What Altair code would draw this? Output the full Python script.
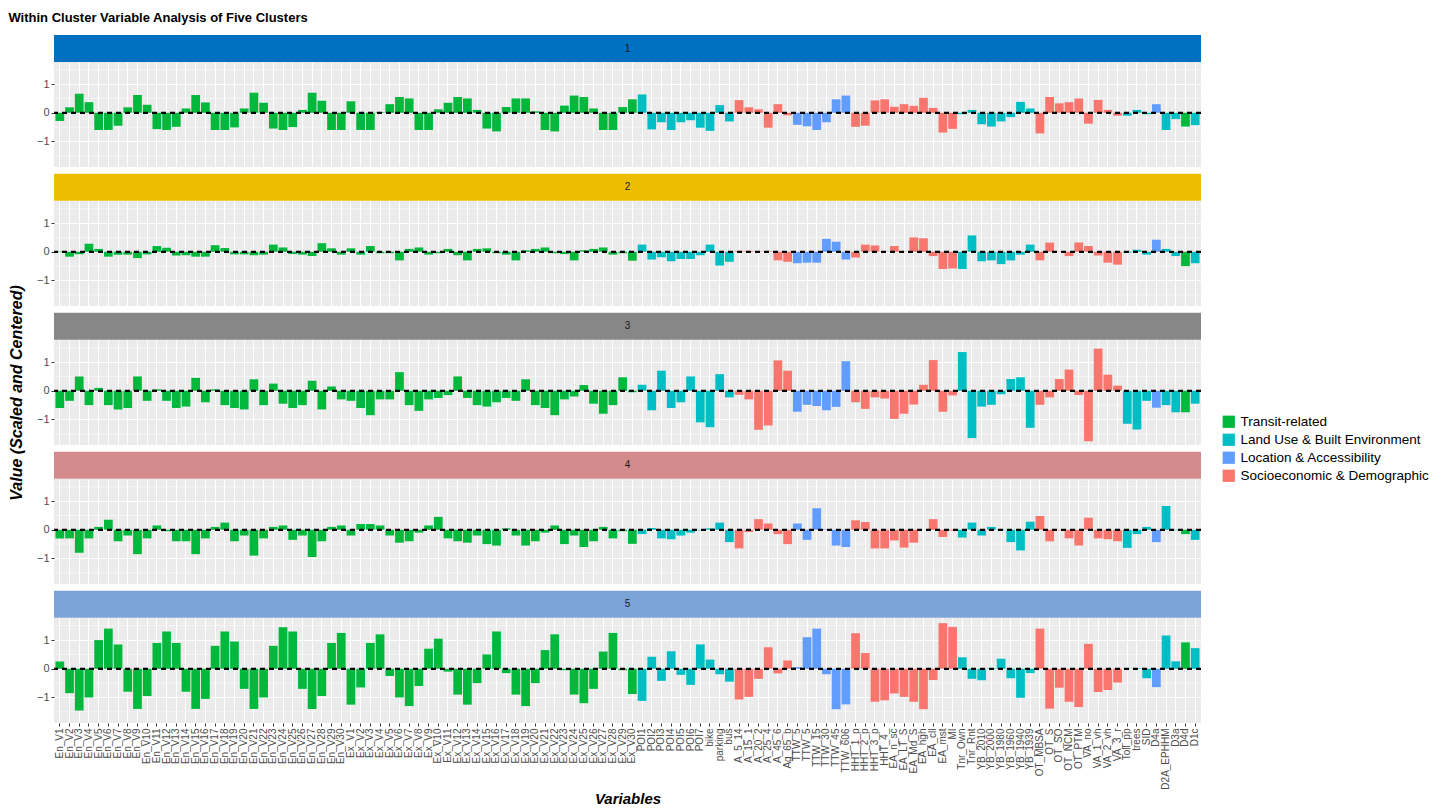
import altair as alt
import pandas as pd

# ---------------- data ----------------
variables = ([f"En_V{i}" for i in range(1, 31)] + [f"Ex_V{i}" for i in range(1, 31)] +
             ["POI1", "POI2", "POI3", "POI4", "POI5", "POI6", "POI7", "bike", "parking", "bus",
              "A_5_14", "A_15_1", "A_20_2", "A_25_4", "A_45_6", "Ag_65_b",
              "TTW_5", "TTW_5\u200b", "TTW_15", "TTW_30", "TTW_45", "TTW_606",
              "HHT_1_p", "HHT_2_p", "HHT_3_p", "HHT_4_",
              "EA_n_sc", "EA_LT_S", "EA_Md_S", "EA_hgh", "EA_cll", "EA_mst", "MI",
              "Tnr_Own", "Tnr_Rnt", "YB_2010", "YB_2000", "YB_1980", "YB_1960", "YB_1940", "YB_1939",
              "OT_MBSA", "OT_S", "OT_SO", "OT_NCM", "OT_PTM", "VA_no", "VA_1_vh", "VA_2_vh", "VA_3_r",
              "Toll_pp", "trees", "SID", "D4a", "D2A_EPHHM", "D3a", "D4d", "D1c"])

T = "Transit-related"
L = "Land Use & Built Environment"
A = "Location & Accessibility"
S = "Socioeconomic & Demographic"
category_names = [T, L, A, S]
category_colors = ["#00B83C", "#00BFC4", "#619CFF", "#F8766D"]
categories = ([T] * 60 + [L] * 10 + [S] * 6 + [A] * 6 + [S] * 11 + [L] * 8 + [S] * 9 +
              [L] * 3 + [A] + [L, L] + [T] + [L])

cluster1 = [-0.29, 0.19, 0.66, 0.37, -0.6, -0.6, -0.45, 0.19, 0.62, 0.28, -0.57, -0.6, -0.49, 0.15, 0.62,
            0.36, -0.6, -0.6, -0.51, 0.15, 0.7, 0.35, -0.55, -0.6, -0.5, 0.1, 0.7, 0.42, -0.6, -0.6,
            0.4, -0.6, -0.6, 0.02, 0.3, 0.55, 0.5, -0.6, -0.6, 0.12, 0.35, 0.55, 0.5, 0.1, -0.55,
            -0.65, 0.2, 0.5, 0.5, 0.05, -0.6, -0.65, 0.25, 0.6, 0.55, 0.15, -0.6, -0.6, 0.2, 0.47,
            0.64, -0.58, -0.33, -0.6, -0.33, -0.26, -0.52, -0.63, 0.27, -0.3, 0.44, 0.19, 0.12, -0.52,
            0.3, -0.09, -0.42, -0.47, -0.6, -0.33, 0.47, 0.6, -0.49, -0.45, 0.43, 0.47, 0.21, 0.3, 0.24,
            0.52, 0.17, -0.69, -0.56, -0.05, 0.1, -0.4, -0.48, -0.3, -0.15, 0.38, 0.15, -0.72, 0.55,
            0.33, 0.37, 0.5, -0.38, 0.45, 0.1, -0.1, -0.1, 0.1, -0.05, 0.3, -0.6, -0.22, -0.48, -0.43]
cluster2 = [-0.02, -0.17, -0.09, 0.28, 0.1, -0.17, -0.1, -0.1, -0.22, -0.09, 0.2, 0.14, -0.13, -0.12, -0.17,
            -0.17, 0.23, 0.13, -0.09, -0.09, -0.12, -0.1, 0.25, 0.15, -0.08, -0.1, -0.15, 0.3, 0.12, -0.1,
            0.12, -0.1, 0.2, -0.05, -0.05, -0.3, 0.1, 0.15, -0.1, -0.05, 0.1, -0.12, -0.3, 0.1, 0.12,
            -0.05, -0.1, -0.3, 0.05, 0.1, 0.15, -0.05, -0.08, -0.3, 0.05, 0.1, 0.15, -0.1, -0.05, -0.31,
            0.25, -0.27, -0.19, -0.33, -0.25, -0.25, -0.12, 0.25, -0.48, -0.35, 0.03, 0.03, 0.01, 0.02,
            -0.3, -0.35, -0.4, -0.38, -0.38, 0.45, 0.35, -0.27, -0.2, 0.25, 0.22, 0.01, 0.2, 0.01, 0.5,
            0.47, -0.15, -0.6, -0.58, -0.6, 0.57, -0.33, -0.3, -0.43, -0.3, -0.1, 0.25, -0.3, 0.32,
            0.01, -0.15, 0.32, 0.2, -0.13, -0.38, -0.45, -0.03, 0.07, -0.1, 0.42, 0.1, -0.15, -0.5, -0.4]
cluster3 = [-0.6, -0.35, 0.5, -0.5, 0.1, -0.5, -0.65, -0.6, 0.5, -0.35, 0.05, -0.35, -0.6, -0.55, 0.45,
            -0.4, 0.05, -0.5, -0.6, -0.65, 0.4, -0.5, 0.25, -0.45, -0.6, -0.5, 0.35, -0.65, 0.15, -0.3,
            -0.35, -0.6, -0.85, -0.3, -0.3, 0.65, -0.5, -0.7, -0.3, -0.25, -0.15, 0.5, -0.25, -0.5, -0.55,
            -0.4, -0.25, -0.35, 0.4, -0.5, -0.6, -0.85, -0.3, -0.2, 0.2, -0.45, -0.8, -0.5, 0.47, -0.05,
            0.21, -0.68, 0.7, -0.6, -0.4, 0.5, -1.1, -1.27, 0.58, -0.23, -0.14, -0.3, -1.36, -1.21, 1.06,
            0.7, -0.73, -0.49, -0.53, -0.68, -0.56, 1.03, -0.4, -0.63, -0.23, -0.27, -0.98, -0.8, -0.48,
            0.21, 1.07, -0.73, -0.16, 1.35, -1.65, -0.55, -0.49, -0.12, 0.41, 0.47, -1.29, -0.49, -0.23,
            0.41, 0.74, -0.15, -1.76, 1.47, 0.56, 0.18, -1.15, -1.35, -0.35, -0.59, -0.5, -0.75, -0.75, -0.45]
cluster4 = [-0.3, -0.3, -0.8, -0.3, 0.1, 0.35, -0.4, -0.2, -0.85, -0.3, 0.15, -0.05, -0.4, -0.4, -0.85,
            -0.3, 0.1, 0.25, -0.4, -0.2, -0.9, -0.3, 0.1, 0.15, -0.35, -0.2, -0.95, -0.4, 0.1, 0.15,
            -0.2, 0.2, 0.2, 0.15, -0.2, -0.45, -0.4, -0.1, 0.15, 0.45, -0.3, -0.4, -0.45, -0.2, -0.5,
            -0.55, 0.05, -0.2, -0.55, -0.4, -0.1, 0.15, -0.5, -0.2, -0.6, -0.4, 0.1, -0.3, -0.05, -0.49,
            -0.15, 0.06, -0.3, -0.33, -0.2, -0.1, -0.02, 0.05, 0.25, -0.43, -0.65, -0.08, 0.37, 0.22,
            -0.15, -0.5, 0.22, -0.35, 0.75, 0.02, -0.55, -0.6, 0.33, 0.27, -0.65, -0.65, -0.37, -0.62,
            -0.45, 0.0, 0.37, -0.25, -0.03, -0.27, 0.25, -0.2, 0.1, -0.02, -0.43, -0.72, 0.28, 0.48,
            -0.4, -0.02, -0.3, -0.55, 0.42, -0.3, -0.33, -0.4, -0.63, -0.15, 0.1, -0.43, 0.83, -0.02, -0.15, -0.35]
cluster5 = [0.25, -0.85, -1.45, -1.0, 1.0, 1.4, 0.85, -0.8, -1.4, -0.95, 0.9, 1.3, 0.9, -0.8, -1.4,
            -1.05, 0.8, 1.3, 0.95, -0.7, -1.4, -1.0, 0.8, 1.45, 1.3, -0.7, -1.4, -0.95, 0.9, 1.25,
            -1.25, -0.65, 0.9, 1.2, -0.25, -1.0, -1.3, -0.6, 0.7, 1.05, -0.1, -0.9, -1.25, -0.5, 0.5,
            1.3, -0.15, -0.9, -1.3, -0.5, 0.65, 1.2, -0.05, -0.9, -1.2, -0.7, 0.6, 1.25, -0.05, -0.88,
            -1.12, 0.42, -0.42, 0.61, -0.21, -0.56, 0.85, 0.32, -0.19, -0.45, -1.07, -0.98, -0.35, 0.75,
            -0.16, 0.29, 0.06, 1.1, 1.4, -0.19, -1.41, -1.24, 1.24, 0.55, -1.15, -1.1, -0.86, -0.98,
            -1.15, -1.41, -0.39, 1.59, 1.46, 0.4, -0.35, -0.4, 0.02, 0.35, -0.33, -1.01, -0.15, 1.4,
            -1.39, -0.66, -1.15, -1.33, 0.87, -0.81, -0.74, -0.48, 0.01, 0.02, -0.33, -0.64, 1.16, 0.26, 0.92, 0.72]

clusters = [cluster1, cluster2, cluster3, cluster4, cluster5]
cluster_labels = ["1", "2", "3", "4", "5"]
strip_colors = ["#0070C0", "#EDBD00", "#878787", "#D48B8C", "#7BA5D8"]
minor_grid = [-1.5, -0.5, 0.5, 1.5]
major_ticks = [-1, 0, 1]

for c in clusters:
    assert len(c) == len(variables) == len(categories)

# ---------------- layout ----------------
W = 1147
STRIP_H = 27
GAP = 6.8
PANEL_H = 105
FONT = "Liberation Sans"

legend = alt.Legend(title=None, orient="none", legendX=1168, legendY=380,
                    symbolType="square", symbolSize=150, symbolStrokeWidth=0,
                    labelFontSize=13.5, labelFont=FONT, labelColor="black", labelLimit=400,
                    rowPadding=3, labelOffset=5)

rows = []
for k, (vals, lab, scol) in enumerate(zip(clusters, cluster_labels, strip_colors)):
    top = 0 if k == 0 else GAP
    sdf = pd.DataFrame({"label": [lab]})
    strip_rect = alt.Chart(sdf).mark_rect(color=scol).encode(
        x=alt.value(0), x2=alt.value(W), y=alt.value(top), y2=alt.value(top + STRIP_H))
    strip_text = alt.Chart(sdf).mark_text(fontSize=10, font=FONT, color="#1A1A1A").encode(
        text="label:N", x=alt.value(W / 2), y=alt.value(top + STRIP_H / 2))
    strip = alt.layer(strip_rect, strip_text).properties(
        width=W, height=top + STRIP_H, view=alt.ViewBackground(fill="white", strokeWidth=0))
    rows.append(strip)

    df = pd.DataFrame({"variable": variables, "value": vals, "category": categories})
    bottom = (k == len(clusters) - 1)
    if bottom:
        xaxis = alt.Axis(title="Variables", titleFontSize=15, titleFontWeight="bold",
                         titleFontStyle="italic", titleFont=FONT, titleColor="black", titlePadding=2,
                         labelAngle=-90, labelFontSize=10, labelFont=FONT, labelColor="#4D4D4D",
                         labelOverlap=False, labelPadding=2, labelBound=False,
                         ticks=True, tickSize=3, tickColor="#333333", domain=False,
                         grid=True, gridColor="white", gridWidth=1.1, bandPosition=0.5)
    else:
        xaxis = alt.Axis(title=None, labels=False, ticks=False, domain=False,
                         grid=True, gridColor="white", gridWidth=1.1, bandPosition=0.5)
    yaxis_kw = dict(values=major_ticks, labelFontSize=11, labelFont=FONT, labelColor="#4D4D4D",
                    tickSize=3, tickColor="#333333", domain=False, grid=True, gridColor="white",
                    gridWidth=1.1, labelPadding=2)
    if k == 2:
        yaxis = alt.Axis(title="Value (Scaled and Centered)", titleFontSize=16, titleFontWeight="bold",
                         titleFontStyle="italic", titleFont=FONT, titleColor="black", titlePadding=12,
                         **yaxis_kw)
    else:
        yaxis = alt.Axis(title=None, **yaxis_kw)

    yscale = alt.Scale(domain=[-1.89, 1.77], nice=False, zero=False)
    minor = alt.Chart(pd.DataFrame({"value": minor_grid})).mark_rule(
        color="white", strokeWidth=0.55).encode(y=alt.Y("value:Q", scale=yscale, axis=yaxis))
    bars = alt.Chart(df).mark_bar().encode(
        x=alt.X("variable:N", scale=alt.Scale(domain=variables, paddingInner=0.1, paddingOuter=0.15),
                axis=xaxis),
        y=alt.Y("value:Q", scale=yscale, axis=yaxis),
        color=alt.Color("category:N", scale=alt.Scale(domain=category_names, range=category_colors),
                        legend=legend),
    )
    zero = alt.Chart(pd.DataFrame({"value": [0]})).mark_rule(
        color="black", strokeDash=[5, 4], strokeWidth=2.3).encode(y=alt.Y("value:Q", scale=yscale, axis=yaxis))
    panel = alt.layer(minor, bars, zero).properties(
        width=W, height=PANEL_H, view=alt.ViewBackground(fill="#EBEBEB", strokeWidth=0))
    rows.append(panel)

chart = alt.vconcat(*rows, spacing=0, bounds="flush").properties(
    title=alt.TitleParams(text="Within Cluster Variable Analysis of Five Clusters", anchor="start",
                          frame="bounds", fontSize=13, fontWeight="bold", font=FONT, color="black",
                          offset=10),
    padding={"left": 0, "top": 4, "right": 5, "bottom": 2},
).configure(background="white")

chart.save("out.html", embed_options={"renderer": "svg", "actions": False})
